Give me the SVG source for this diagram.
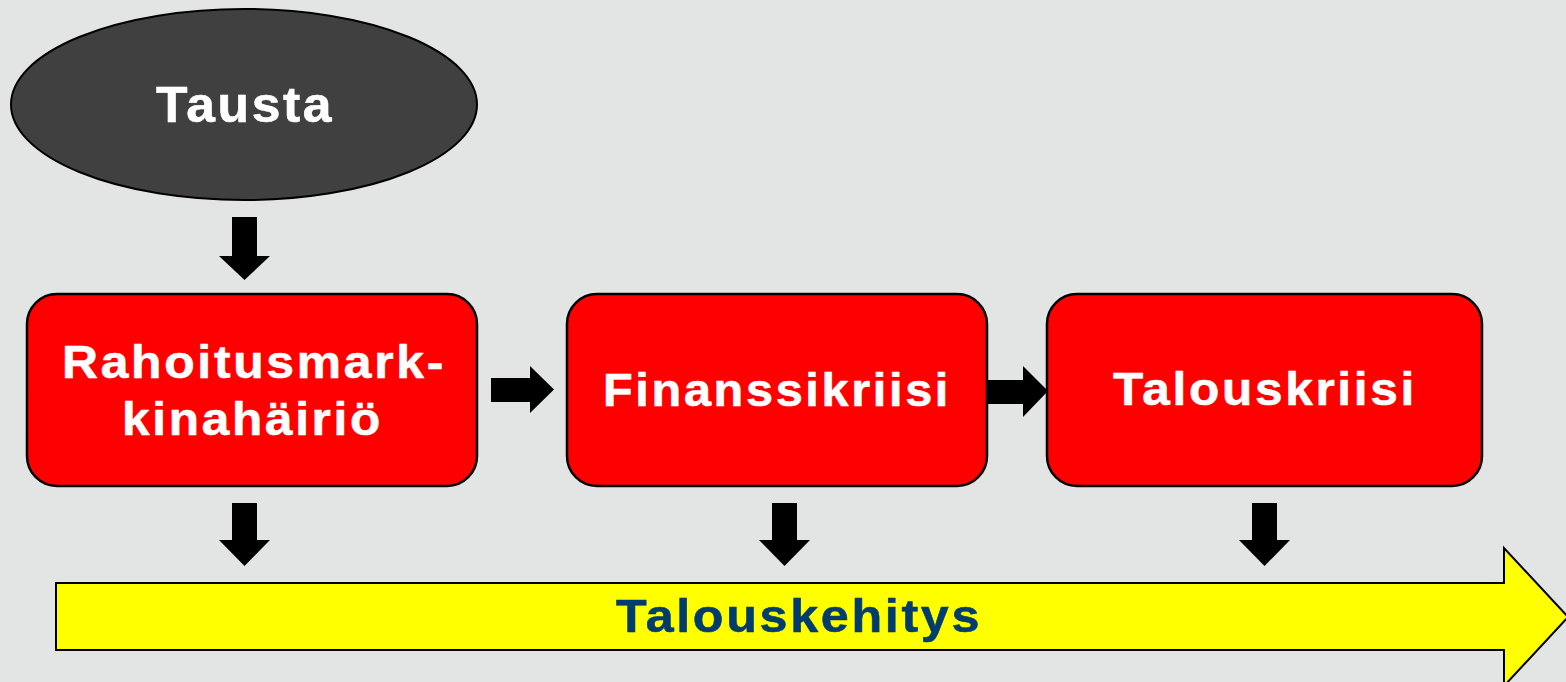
<svg xmlns="http://www.w3.org/2000/svg" width="1566" height="682" viewBox="0 0 1566 682">
  <style>
    .lbl { font-family: "Liberation Sans", Arial, sans-serif; font-weight: bold; fill: #ffffff; stroke: #ffffff; stroke-width: 0.6; stroke-linejoin: round; letter-spacing: 2.5px; }
    .dark { fill: #003d6e; stroke: #003d6e; }
    .box { fill: #ff0000; stroke: #000000; stroke-width: 2.5; }
    .conn { fill: #000000; stroke: none; }
  </style>
  <rect x="0" y="0" width="1566" height="682" fill="#e3e5e4"/>

  <!-- background oval -->
  <g id="tausta">
    <ellipse cx="244" cy="104.5" rx="233" ry="95.5" fill="#404040" stroke="#000000" stroke-width="2"/>
    <text class="lbl" x="156" y="122" font-size="50" textLength="178" lengthAdjust="spacingAndGlyphs">Tausta</text>
  </g>

  <!-- red process boxes -->
  <g id="rahoitusmarkkinahairio">
    <rect class="box" x="27" y="294" width="450" height="192" rx="30" ry="30"/>
    <text class="lbl" x="62" y="378" font-size="46" textLength="384" lengthAdjust="spacingAndGlyphs">Rahoitusmark-</text>
    <text class="lbl" x="122" y="435" font-size="46" textLength="261" lengthAdjust="spacingAndGlyphs">kinahäiriö</text>
  </g>

  <g id="finanssikriisi">
    <rect class="box" x="567" y="294" width="420" height="192" rx="30" ry="30"/>
    <text class="lbl" x="603" y="406" font-size="46" textLength="348" lengthAdjust="spacingAndGlyphs">Finanssikriisi</text>
  </g>

  <g id="talouskriisi">
    <rect class="box" x="1047" y="294" width="435" height="192" rx="30" ry="30"/>
    <text class="lbl" x="1113" y="405" font-size="46" textLength="304" lengthAdjust="spacingAndGlyphs">Talouskriisi</text>
  </g>

  <!-- economic development timeline arrow -->
  <g id="talouskehitys">
    <polygon points="56,583 1504,583 1504,548 1568,617 1504,686 1504,650 56,650" fill="#ffff00" stroke="#000000" stroke-width="2"/>
    <text class="lbl dark" x="616" y="632" font-size="47" textLength="366" lengthAdjust="spacingAndGlyphs">Talouskehitys</text>
  </g>

  <!-- block arrows -->
  <g id="connectors">
    <polygon class="conn" points="232,217 257,217 257,256 270,256 244.5,280 219,256 232,256"/>
    <polygon class="conn" points="491,378 530,378 530,366 554,389.5 530,413 530,402 491,402"/>
    <polygon class="conn" points="988,380 1023,380 1023,366 1048,391 1023,417 1023,404 988,404"/>
    <polygon class="conn" points="232,503 257,503 257,540 270,540 244.5,566 219,540 232,540"/>
    <polygon class="conn" points="772,503 797,503 797,540 810,540 784.5,566 759,540 772,540"/>
    <polygon class="conn" points="1252,503 1277,503 1277,540 1290,540 1264.5,566 1239,540 1252,540"/>
  </g>
</svg>
